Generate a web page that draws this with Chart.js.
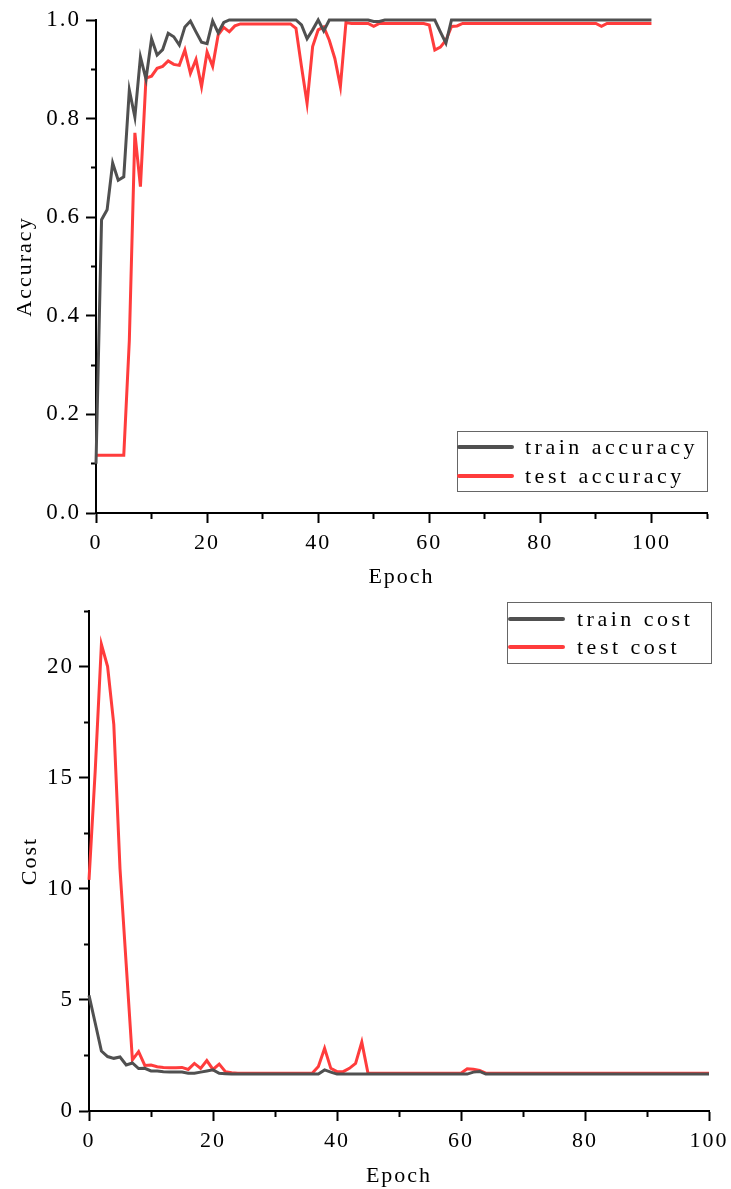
<!DOCTYPE html>
<html>
<head>
<meta charset="utf-8">
<script src="https://cdn.jsdelivr.net/npm/chart.js@4.4.0/dist/chart.umd.min.js"></script>
<style>
  body { margin: 0; background: #fff; }
  .wrap { position: absolute; left: 0; }
  canvas { display: block; }
</style>
</head>
<body>
<div class="wrap" style="top:0px"><canvas id="accChart" width="731" height="600"></canvas></div>
<div class="wrap" style="top:590px"><canvas id="costChart" width="731" height="599"></canvas></div>
<script>
const epochs = Array.from({length: 101}, (_, i) => i);

const trainAcc = [
  0.10, 0.595, 0.615, 0.71, 0.675, 0.682, 0.858, 0.803, 0.925, 0.88,
  0.962, 0.929, 0.94, 0.973, 0.966, 0.949, 0.986, 0.998, 0.976, 0.955,
  0.952, 0.998, 0.974, 0.995, 1, 1, 1, 1, 1, 1,
  1, 1, 1, 1, 1, 1, 1, 0.99, 0.962, 0.98,
  1, 0.978, 1, 1, 1, 1, 1, 1, 1, 1,
  0.997, 0.997, 1, 1, 1, 1, 1, 1, 1, 1,
  1, 1, 0.976, 0.953, 1, 1, 1, 1, 1, 1,
  1, 1, 1, 1, 1, 1, 1, 1, 1, 1,
  1, 1, 1, 1, 1, 1, 1, 1, 1, 1,
  1, 1, 1, 1, 1, 1, 1, 1, 1, 1,
  1
];
const testAcc = [
  0.117, 0.117, 0.117, 0.117, 0.117, 0.117, 0.35, 0.771, 0.662, 0.882,
  0.886, 0.902, 0.906, 0.917, 0.91, 0.908, 0.939, 0.892, 0.92, 0.865,
  0.935, 0.906, 0.97, 0.985, 0.976, 0.988, 0.992, 0.992, 0.992, 0.992,
  0.992, 0.992, 0.992, 0.992, 0.992, 0.992, 0.983, 0.905, 0.831, 0.946,
  0.98, 0.986, 0.959, 0.922, 0.865, 0.995, 0.993, 0.993, 0.993, 0.993,
  0.987, 0.993, 0.993, 0.993, 0.993, 0.993, 0.993, 0.993, 0.993, 0.993,
  0.99, 0.939, 0.945, 0.959, 0.987, 0.988, 0.993, 0.993, 0.993, 0.993,
  0.993, 0.993, 0.993, 0.993, 0.993, 0.993, 0.993, 0.993, 0.993, 0.993,
  0.993, 0.993, 0.993, 0.993, 0.993, 0.993, 0.993, 0.993, 0.993, 0.993,
  0.993, 0.987, 0.993, 0.993, 0.993, 0.993, 0.993, 0.993, 0.993, 0.993,
  0.993
];

const trainCost = [
  5.2, 3.96, 2.7, 2.45, 2.37, 2.43, 2.07, 2.16, 1.91, 1.92,
  1.8, 1.8, 1.77, 1.76, 1.76, 1.75, 1.7, 1.7, 1.75, 1.8,
  1.85, 1.7, 1.68, 1.66, 1.66, 1.66, 1.66, 1.66, 1.66, 1.66,
  1.66, 1.66, 1.66, 1.66, 1.66, 1.66, 1.66, 1.66, 1.85, 1.75,
  1.66, 1.66, 1.66, 1.66, 1.66, 1.66, 1.66, 1.66, 1.66, 1.66,
  1.66, 1.66, 1.66, 1.66, 1.66, 1.66, 1.66, 1.66, 1.66, 1.66,
  1.66, 1.66, 1.75, 1.78, 1.66, 1.66, 1.66, 1.66, 1.66, 1.66,
  1.66, 1.66, 1.66, 1.66, 1.66, 1.66, 1.66, 1.66, 1.66, 1.66,
  1.66, 1.66, 1.66, 1.66, 1.66, 1.66, 1.66, 1.66, 1.66, 1.66,
  1.66, 1.66, 1.66, 1.66, 1.66, 1.66, 1.66, 1.66, 1.66, 1.66,
  1.66
];
const testCost = [
  10.4, 15.3, 21.0, 20.0, 17.4, 10.9, 6.6, 2.3, 2.67, 2.05,
  2.07, 1.99, 1.96, 1.95, 1.95, 1.96, 1.87, 2.14, 1.92, 2.27,
  1.87, 2.11, 1.77, 1.72, 1.7, 1.7, 1.7, 1.7, 1.7, 1.7,
  1.7, 1.7, 1.7, 1.7, 1.7, 1.7, 1.7, 2.0, 2.82, 1.92,
  1.77, 1.77, 1.92, 2.14, 3.1, 1.7, 1.7, 1.7, 1.7, 1.7,
  1.7, 1.7, 1.7, 1.7, 1.7, 1.7, 1.7, 1.7, 1.7, 1.7,
  1.7, 1.9, 1.88, 1.82, 1.7, 1.7, 1.7, 1.7, 1.7, 1.7,
  1.7, 1.7, 1.7, 1.7, 1.7, 1.7, 1.7, 1.7, 1.7, 1.7,
  1.7, 1.7, 1.7, 1.7, 1.7, 1.7, 1.7, 1.7, 1.7, 1.7,
  1.7, 1.7, 1.7, 1.7, 1.7, 1.7, 1.7, 1.7, 1.7, 1.7,
  1.7
];

const grayLine = '#505050';
const redLine = '#ff3c3c';
const serif = '"Liberation Serif", "DejaVu Serif", serif';

Chart.defaults.font.family = serif;
Chart.defaults.color = '#000';

// the original text is a wide spaced serif, canvas letterSpacing gets close
const spacedText = {
  id: 'spacedText',
  beforeDraw(chart) {
    chart.ctx.letterSpacing = '2px';
  }
};

// legend with a frame, drawn where the original had it
const boxLegend = {
  id: 'boxLegend',
  afterDraw(chart, args, opts) {
    const ctx = chart.ctx;
    ctx.save();
    ctx.fillStyle = '#fff';
    ctx.fillRect(opts.x, opts.y, opts.w, opts.h);
    ctx.strokeStyle = '#666';
    ctx.lineWidth = 1;
    ctx.strokeRect(opts.x + 0.5, opts.y + 0.5, opts.w, opts.h);
    ctx.font = '22px ' + serif;
    ctx.letterSpacing = '3.5px';
    ctx.textBaseline = 'middle';
    chart.data.datasets.forEach((ds, i) => {
      const y = opts.y + opts.rowTop + i * opts.rowGap;
      ctx.strokeStyle = ds.borderColor;
      ctx.lineWidth = 4;
      ctx.lineCap = 'round';
      ctx.beginPath();
      ctx.moveTo(opts.x + opts.lineFrom, y);
      ctx.lineTo(opts.x + opts.lineTo, y);
      ctx.stroke();
      ctx.fillStyle = '#000';
      ctx.fillText(ds.label, opts.x + opts.textX, y + 1);
    });
    ctx.restore();
  }
};

function xAxis(max, height) {
  return {
    type: 'linear',
    min: 0,
    max: max,
    afterFit: (scale) => {
      scale.height = height;
      scale.paddingLeft = 0;
      scale.paddingRight = 0;
    },
    border: { display: true, color: '#000', width: 2 },
    grid: {
      drawOnChartArea: false,
      tickLength: 10,
      tickWidth: 2,
      tickColor: '#000',
      tickBorderDash: (c) => (c.index % 2 === 0 ? [] : [5, 10])
    },
    ticks: {
      stepSize: 10,
      autoSkip: false,
      maxRotation: 0,
      padding: 7,
      font: { size: 22 },
      callback: (v, i) => (i % 2 === 0 ? String(v) : '')
    }
  };
}

function yAxis(max, step, width, fmt) {
  return {
    min: 0,
    max: max,
    afterFit: (scale) => {
      scale.width = width;
      scale.paddingTop = 0;
      scale.paddingBottom = 0;
    },
    border: { display: true, color: '#000', width: 2 },
    grid: {
      drawOnChartArea: false,
      tickLength: 10,
      tickWidth: 2,
      tickColor: '#000',
      tickBorderDash: (c) => (c.index % 2 === 0 ? [] : [0, 5, 10])
    },
    ticks: {
      stepSize: step,
      autoSkip: false,
      padding: 5,
      font: { size: 23 },
      callback: (v, i) => (i % 2 === 0 ? fmt(v) : '')
    }
  };
}

const accScales = {
  x: xAxis(110, 87),
  y: yAxis(1.0, 0.1, 96, (v) => Number(v).toFixed(1))
};
accScales.x.title = { display: true, text: 'Epoch', font: { size: 22 }, padding: { top: 0, bottom: 10 } };
accScales.y.title = { display: true, text: 'Accuracy', font: { size: 22 }, padding: { top: 12, bottom: 0 } };

const configAcc = {
  type: 'line',
  data: {
    labels: epochs,
    datasets: [
      { label: 'train accuracy', data: trainAcc, borderColor: grayLine, borderWidth: 3, pointRadius: 0, tension: 0, clip: false },
      { label: 'test accuracy', data: testAcc, borderColor: redLine, borderWidth: 3, pointRadius: 0, tension: 0, clip: false }
    ]
  },
  options: {
    responsive: false,
    animation: false,
    layout: { padding: { top: 20, right: 24, left: 0, bottom: 0 } },
    plugins: {
      legend: { display: false },
      tooltip: { enabled: false },
      boxLegend: { x: 457, y: 431, w: 250, h: 60, rowTop: 16, rowGap: 29, lineFrom: 2, lineTo: 55, textX: 68 }
    },
    scales: accScales
  },
  plugins: [spacedText, boxLegend]
};

const costScales = {
  x: xAxis(100, 78),
  y: yAxis(22.5, 2.5, 89, (v) => String(v))
};
costScales.x.title = { display: true, text: 'Epoch', font: { size: 22 }, padding: { top: 0, bottom: 0 } };
costScales.y.title = { display: true, text: 'Cost', font: { size: 22 }, padding: { top: 17, bottom: 0 } };

const configCost = {
  type: 'line',
  data: {
    labels: epochs,
    datasets: [
      { label: 'train cost', data: trainCost, borderColor: grayLine, borderWidth: 3, pointRadius: 0, tension: 0, clip: false },
      { label: 'test cost', data: testCost, borderColor: redLine, borderWidth: 3, pointRadius: 0, tension: 0, clip: false }
    ]
  },
  options: {
    responsive: false,
    animation: false,
    layout: { padding: { top: 21, right: 22, left: 0, bottom: 0 } },
    plugins: {
      legend: { display: false },
      tooltip: { enabled: false },
      boxLegend: { x: 507, y: 12, w: 204, h: 61, rowTop: 17, rowGap: 28, lineFrom: 3, lineTo: 56, textX: 70 }
    },
    scales: costScales
  },
  plugins: [spacedText, boxLegend]
};

const accChart = new Chart(document.getElementById('accChart'), configAcc);
const costChart = new Chart(document.getElementById('costChart'), configCost);
</script>
</body>
</html>
